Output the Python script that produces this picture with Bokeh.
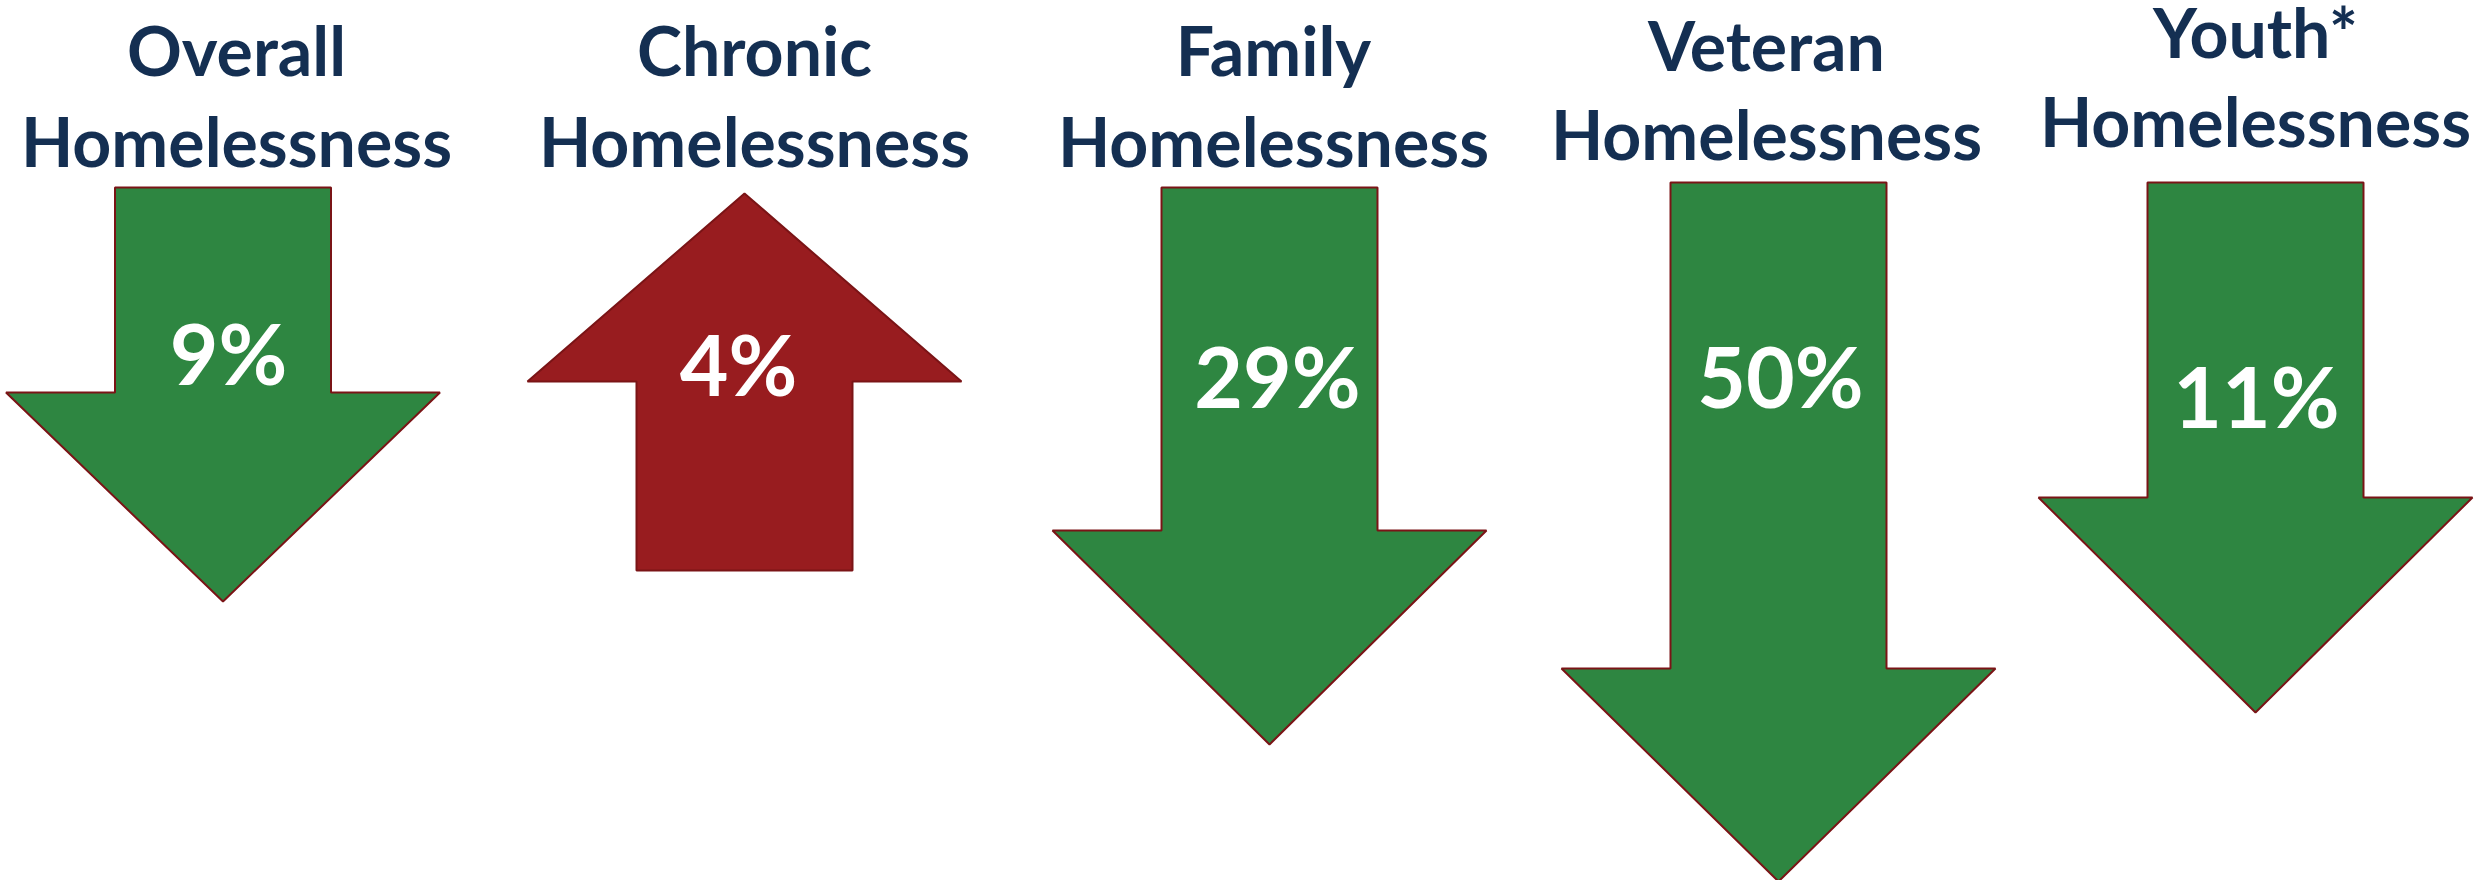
from bokeh.plotting import figure
from bokeh.models import Range1d
from bokeh.core.properties import value
from bokeh.embed import file_html
from bokeh.resources import INLINE

# ---- data ----
title_line1 = ["Overall", "Chronic", "Family", "Veteran", "Youth*"]
title_line2 = ["Homelessness", "Homelessness", "Homelessness", "Homelessness", "Homelessness"]
pct_change = [-9, 4, -29, -50, -11]   # negative = decrease (down arrow)

# ---- layout (pixel space of the page) ----
arrow_cx = [222.5, 744, 1269, 1778, 2255]
arrow_start = [187, 570, 187, 182, 182]
arrow_head = [392, 381, 530, 668, 497]
arrow_tip = [601, 193, 744, 881, 712]
shaft_half = 108
head_half = 217

title_cx = [236, 754, 1273, 1766, 2255]
title1_mid = [48.5, 48.5, 48.5, 43.5, 30.5]
title2_mid = [139.5, 139.5, 139.5, 132.5, 120]

label_cx = [228, 738, 1277, 1780, 2256]
label_mid = [352, 363, 375, 375, 395]

GREEN = "#2E8641"
RED = "#981C1F"
EDGE = "#7A1416"
NAVY = "#142F52"

W, H = 2478, 880
p = figure(width=W, height=H, output_backend="svg", toolbar_location=None,
           x_range=Range1d(0, W), y_range=Range1d(H, 0),
           min_border=0, outline_line_color=None, background_fill_color="white")
p.axis.visible = False
p.grid.visible = False

xs, ys, fills = [], [], []
for cx, s, hd, t, v in zip(arrow_cx, arrow_start, arrow_head, arrow_tip, pct_change):
    xs.append([cx - shaft_half, cx + shaft_half, cx + shaft_half, cx + head_half,
               cx, cx - head_half, cx - shaft_half])
    ys.append([s, s, hd, hd, t, hd, hd])
    fills.append(GREEN if v < 0 else RED)

p.patches(xs=xs, ys=ys, fill_color=fills, line_color=EDGE, line_width=2)

labels = [f"{abs(v)}%" for v in pct_change]
p.text(x=label_cx, y=label_mid, text=labels, text_color="white",
       text_font=value("Lato"), text_font_style="bold", text_font_size="84px",
       text_align="center", text_baseline="middle")

p.text(x=title_cx, y=title1_mid, text=title_line1, text_color=NAVY,
       text_font=value("Lato"), text_font_style="bold", text_font_size="68px",
       text_align="center", text_baseline="middle")
p.text(x=title_cx, y=title2_mid, text=title_line2, text_color=NAVY,
       text_font=value("Lato"), text_font_style="bold", text_font_size="68px",
       text_align="center", text_baseline="middle")

open("out.html", "w").write(file_html(p, INLINE))
